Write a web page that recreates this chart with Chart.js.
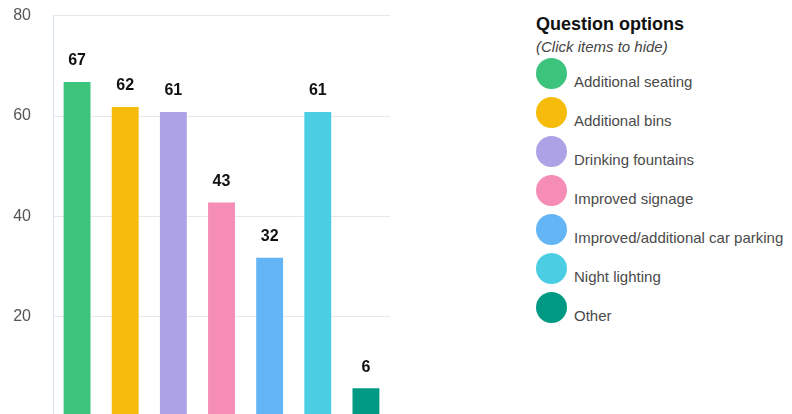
<!DOCTYPE html>
<html>
<head>
<meta charset="utf-8">
<script src="https://cdn.jsdelivr.net/npm/chart.js@4.4.1/dist/chart.umd.min.js"></script>
<style>
  html, body { margin: 0; padding: 0; background: #fff; overflow: hidden; width: 792px; height: 414px; }
  body { position: relative; font-family: "Liberation Sans", Arial, sans-serif; }
  #optChart { position: absolute; left: 0; top: -16px; }
  #legend { position: absolute; left: 536px; top: 13px; }
  #legend h3 { margin: 0; font-size: 18px; font-weight: bold; color: #111; line-height: 22px; }
  #legend .sub { font-size: 15px; font-style: italic; color: #444; line-height: 20px; margin-bottom: 3px; position: relative; top: 2px; }
  #legend ul { list-style: none; margin: 0; padding: 0; }
  #legend li { display: flex; align-items: flex-end; height: 31px; margin-bottom: 8px; cursor: pointer; }
  #legend .dot { width: 31px; height: 31px; border-radius: 50%; flex: none; }
  #legend .txt { margin-left: 7px; font-size: 15px; color: #4a4a4a; line-height: 16px; position: relative; top: 1px; }
  #legend li.off .txt { text-decoration: line-through; opacity: 0.5; }
</style>
</head>
<body>
<canvas id="optChart" width="392" height="465"></canvas>
<div id="legend">
  <h3>Question options</h3>
  <div class="sub">(Click items to hide)</div>
  <ul id="legendList"></ul>
</div>
<script>
  // 항목 / 값 / 색상
  const categories = ["Additional seating", "Additional bins", "Drinking fountains", "Improved signage",
                      "Improved/additional car parking", "Night lighting", "Other"];
  const counts = [67, 62, 61, 43, 32, 61, 6];
  const colors = ["#3CC37C", "#F6BB0B", "#ADA2E6", "#F68DB6", "#63B5F6", "#4BCDE4", "#009A84"];
  const yTicks = [20, 40, 60, 80];

  // 막대 위에 값 표시
  const valueLabels = {
    id: 'valueLabels',
    afterDatasetsDraw(chart) {
      const ctx = chart.ctx;
      const meta = chart.getDatasetMeta(0);
      ctx.save();
      ctx.font = 'bold 16px "Liberation Sans", Arial, sans-serif';
      ctx.fillStyle = '#111';
      ctx.textAlign = 'center';
      ctx.textBaseline = 'middle';
      meta.data.forEach((bar, i) => {
        if (!chart.getDataVisibility(i)) return;
        ctx.fillText(counts[i], bar.x, bar.y - 20);
      });
      ctx.restore();
    }
  };

  const ctx = document.getElementById('optChart').getContext('2d');
  const chart = new Chart(ctx, {
    type: 'bar',
    data: {
      labels: categories,
      datasets: [{
        data: counts,
        backgroundColor: colors,
        borderColor: 'rgba(255,255,255,0.35)',
        borderWidth: 1,
        barPercentage: 0.6,
        categoryPercentage: 1
      }]
    },
    options: {
      responsive: false,
      animation: false,
      layout: { padding: { left: 12, right: 2, top: 5, bottom: 14 } },
      scales: {
        x: { display: false },
        y: {
          min: 0, max: 80,
          afterBuildTicks: axis => { axis.ticks = yTicks.map(v => ({ value: v })); },
          afterFit: axis => { axis.width = 41; },
          ticks: {
            padding: 22,
            color: '#555',
            font: { size: 16, family: '"Liberation Sans", Arial, sans-serif' }
          },
          grid: { color: '#e8e8ea', drawTicks: false },
          border: { color: '#d8e2ee' }
        }
      },
      plugins: {
        legend: { display: false },
        tooltip: { enabled: true }
      }
    },
    plugins: [valueLabels]
  });

  // HTML 범례 (클릭 시 숨기기)
  const list = document.getElementById('legendList');
  categories.forEach((name, i) => {
    const li = document.createElement('li');
    li.innerHTML = `<span class="dot" style="background:${colors[i]}"></span><span class="txt">${name}</span>`;
    li.addEventListener('click', () => {
      chart.toggleDataVisibility(i);
      li.classList.toggle('off', !chart.getDataVisibility(i));
      chart.update();
    });
    list.appendChild(li);
  });
</script>
</body>
</html>
